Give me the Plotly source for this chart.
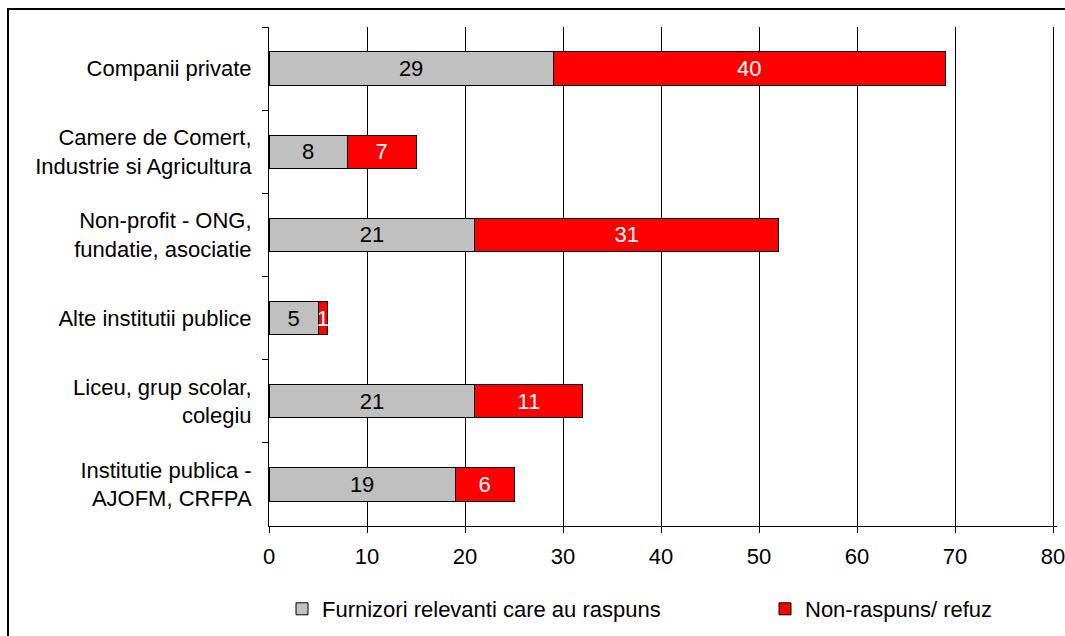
import plotly.graph_objects as go

categories = [
    "Companii private",
    "Camere de Comert,<br>Industrie si Agricultura",
    "Non-profit - ONG,<br>fundatie, asociatie",
    "Alte institutii publice",
    "Liceu, grup scolar,<br>colegiu",
    "Institutie publica -<br>AJOFM, CRFPA",
]
responded = [29, 8, 21, 5, 21, 19]
nonresponse = [40, 7, 31, 1, 11, 6]
series_names = ["Furnizori relevanti care au raspuns", "Non-raspuns/ refuz"]
x_ticks = [0, 10, 20, 30, 40, 50, 60, 70, 80]

FONT = "Liberation Sans, Arial, sans-serif"
FS = 22

fig = go.Figure()
fig.add_trace(go.Bar(
    y=categories, x=responded, orientation="h", name=series_names[0],
    marker=dict(color="#C0C0C0", line=dict(color="black", width=1)),
    text=[str(v) for v in responded], textposition="inside",
    insidetextanchor="middle", constraintext="none",
    textfont=dict(color="black", size=FS, family=FONT),
    hoverinfo="skip", legend="legend",
))
fig.add_trace(go.Bar(
    y=categories, x=nonresponse, orientation="h", name=series_names[1],
    marker=dict(color="#FF0000", line=dict(color="black", width=1)),
    text=[str(v) for v in nonresponse], textposition="inside",
    insidetextanchor="middle", constraintext="none",
    textfont=dict(color="white", size=FS, family=FONT),
    hoverinfo="skip", legend="legend2",
))

L, R, T, B = 269, 8, 27, 110
W, H = 1065, 636
pw, ph = W - L - R, H - T - B

def px_x(p):
    return (p - L) / pw

def px_y(p):
    return (H - B - p) / ph

legend_common = dict(
    orientation="h", xanchor="left", yanchor="middle", y=px_y(609),
    font=dict(size=FS, color="black", family=FONT),
    bgcolor="rgba(0,0,0,0)", borderwidth=0,
)

fig.update_layout(
    width=W, height=H,
    margin=dict(l=L, r=R, t=T, b=B, autoexpand=False),
    barmode="stack", bargap=0.6,
    plot_bgcolor="white", paper_bgcolor="white",
    font=dict(family=FONT, size=FS, color="black"),
    showlegend=True,
    legend=dict(x=px_x(282), **legend_common),
    legend2=dict(x=px_x(765), **legend_common),
    xaxis=dict(
        range=[0, x_ticks[-1] * 1.005], tickvals=x_ticks,
        ticktext=[str(v) for v in x_ticks],
        showgrid=True, gridcolor="black", gridwidth=1,
        showline=True, linecolor="black", linewidth=1,
        ticks="outside", ticklen=6, tickcolor="black",
        zeroline=False, ticklabelstandoff=5,
        ticklabeloverflow="allow", automargin=False,
        tickfont=dict(size=FS, color="black", family=FONT),
        fixedrange=True,
    ),
    yaxis=dict(
        categoryorder="array", categoryarray=categories,
        autorange="reversed",
        showline=True, linecolor="black", linewidth=1,
        ticks="outside", ticklen=6, tickcolor="black",
        tickson="boundaries", showgrid=False, zeroline=False,
        ticklabelstandoff=12, automargin=False,
        tickfont=dict(size=FS, color="black", family=FONT),
        fixedrange=True,
    ),
    shapes=[dict(
        type="rect", xref="paper", yref="paper",
        x0=px_x(8), x1=px_x(1075), y0=px_y(645), y1=px_y(9),
        line=dict(color="black", width=2), fillcolor="rgba(0,0,0,0)",
        layer="above",
    )],
)

fig.write_html(
    "out.html",
    config={"displayModeBar": False, "staticPlot": True},
    post_script="document.body.style.margin='0';",
)
